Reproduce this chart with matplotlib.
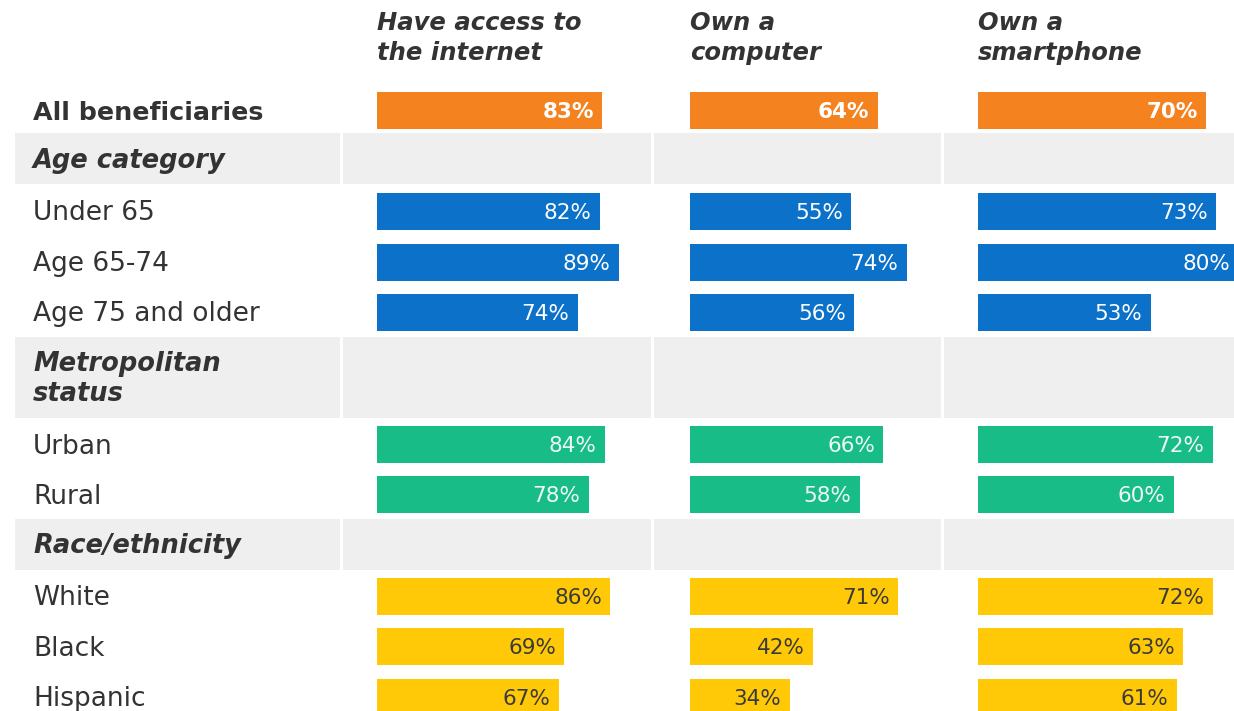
import matplotlib
matplotlib.use("Agg")
import matplotlib.pyplot as plt

# ---- data ----
groups = ["All beneficiaries", "Under 65", "Age 65-74", "Age 75 and older",
          "Urban", "Rural", "White", "Black", "Hispanic"]
internet = [83, 82, 89, 74, 84, 78, 86, 69, 67]
computer = [64, 55, 74, 56, 66, 58, 71, 42, 34]
smartphone = [70, 73, 80, 53, 72, 60, 72, 63, 61]
columns = ["Have access to\nthe internet", "Own a\ncomputer", "Own a\nsmartphone"]
sections = ["Age category", "Metropolitan\nstatus", "Race/ethnicity"]

# ---- layout (pixels, figure is 1234 x 711) ----
W, H = 1234, 711
row_y = [110.5, 211, 262, 312, 444.5, 494.5, 596, 646.5, 697]
section_span = [(133, 184), (337, 418), (519, 570)]
section_text_top = [148, 351, 533]
col_x0 = [377, 690, 978]
px_per_pct = [2.715, 2.93, 3.26]
band_segments = [(15, 325), (343, 308), (654, 287), (944, 290)]
bar_h = 37

orange, blue, green, yellow = "#F4821F", "#0B71C9", "#17BC86", "#FFC907"
row_colors = [orange, blue, blue, blue, green, green, yellow, yellow, yellow]
text_colors = ["white", "white", "white", "white", "#EEF8F3", "#EEF8F3",
               "#3A3A3A", "#3A3A3A", "#3A3A3A"]
dark = "#333333"

plt.rcParams["font.family"] = ["DejaVu Sans"]

fig = plt.figure(figsize=(W / 100, H / 100), dpi=100)
bg = fig.add_axes([0, 0, 1, 1])
bg.set_xlim(0, W)
bg.set_ylim(H, 0)
bg.axis("off")

# grey section bands
for (y0, y1) in section_span:
    bg.broken_barh(band_segments, (y0, y1 - y0), facecolors="#EFEFEF", zorder=0)

# section titles
for label, top in zip(sections, section_text_top):
    bg.text(33, top, label, fontsize=18.5, fontweight="bold", fontstyle="italic",
            color=dark, va="top", ha="left", linespacing=1.2)

# group labels
for i, (label, y) in enumerate(zip(groups, row_y)):
    bold = i == 0
    bg.text(33, y + 9, label, fontsize=18.3 if bold else 19,
            fontweight="bold" if bold else "normal", color=dark,
            va="baseline", ha="left")

# one axes per measure so each column has its own percent scale
for x0, scale, title, values in zip(col_x0, px_per_pct, columns,
                                    [internet, computer, smartphone]):
    ax = fig.add_axes([x0 / W, 0, (W - x0) / W, 1])
    ax.set_xlim(0, (W - x0) / scale)
    ax.set_ylim(H, 0)
    ax.axis("off")
    ax.patch.set_visible(False)
    ax.barh(row_y, values, height=bar_h, color=row_colors, zorder=2)
    for i, (v, y) in enumerate(zip(values, row_y)):
        ax.annotate(f"{v}%", xy=(v, y + 7.8), xytext=(-6, 0),
                    textcoords="offset points", ha="right", va="baseline",
                    fontsize=15.5, color=text_colors[i],
                    fontweight="bold" if i == 0 else "normal", zorder=3,
                    annotation_clip=False)
    bg.text(x0, 11, title, fontsize=17.5, fontweight="bold", fontstyle="italic",
            color=dark, va="top", ha="left", linespacing=1.32)

fig.savefig("out.png", dpi=100)
